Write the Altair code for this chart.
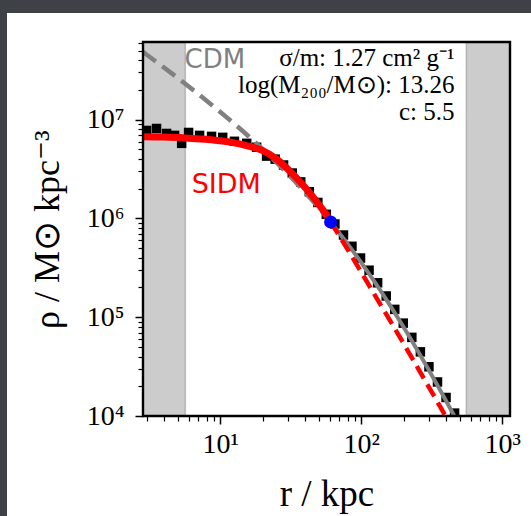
import altair as alt
import pandas as pd

# ---------------- data ----------------
R_DOMAIN = [2.83, 1135.0]
RHO_DOMAIN = [1.0e4, 6.1e7]

# simulated density profile (black squares)
data_r = [3.00, 3.53, 4.16, 4.74, 5.32, 5.96, 7.13, 8.67, 10.4, 12.6, 15.4, 18.1,
          21.3, 24.5, 28.1, 32.4, 37.2, 42.8, 49.2, 56.5, 65.0, 74.8, 85.9, 98.8,
          113.6, 130.6, 150.3, 172.8, 198.6, 228.4, 262.6, 302.0, 347.3, 399.4, 459.2]
data_rho = [7.76e6, 8.13e6, 7.24e6, 6.92e6, 5.75e6, 7.41e6, 6.92e6, 6.76e6, 6.61e6,
            6.03e6, 5.75e6, 5.25e6,
            4.27e6, 3.98e6, 3.47e6, 2.88e6, 2.34e6, 1.86e6, 1.45e6, 1.10e6,
            8.77e5, 6.79e5, 5.22e5, 3.97e5, 2.99e5, 2.23e5, 1.64e5, 1.20e5,
            8.71e4, 6.25e4, 4.46e4, 3.15e4, 2.21e4, 1.54e4, 1.07e4]

# CDM (NFW) fit: dashed inside r1, solid outside
cdm_in_r = [2.83, 3.5, 4.5, 6.0, 8.0, 10.0, 13.0, 16.0, 20.0, 25.0, 30.0, 36.0, 43.0, 50.0, 55.0, 60.6]
cdm_in_rho = [4.84e7, 3.86e7, 2.95e7, 2.15e7, 1.55e7, 1.195e7, 8.70e6, 6.71e6, 5.01e6,
              3.69e6, 2.84e6, 2.16e6, 1.63e6, 1.276e6, 1.086e6, 9.2e5]
cdm_out_r = [60.6, 70.0, 80.0, 100.0, 130.0, 160.0, 200.0, 250.0, 300.0, 350.0, 400.0, 460.0, 500.0]
cdm_out_rho = [9.2e5, 7.08e5, 5.52e5, 3.57e5, 2.07e5, 1.317e5, 7.90e4, 4.64e4, 2.96e4,
               2.00e4, 1.417e4, 9.82e3, 7.87e3]

# SIDM fit: solid inside r1, dashed outside
sidm_in_r = [2.83, 3.98, 5.62, 7.94, 10.0, 12.6, 15.8, 20.0, 25.1, 31.6, 39.8, 44.7, 50.1, 56.2, 60.6]
sidm_in_rho = [6.70e6, 6.65e6, 6.53e6, 6.31e6, 6.11e6, 5.81e6, 5.40e6, 4.85e6, 3.98e6,
               2.95e6, 2.07e6, 1.70e6, 1.38e6, 1.10e6, 9.2e5]
sidm_out_r = [60.6, 70.8, 89.1, 112.0, 141.0, 178.0, 224.0, 282.0, 355.0, 417.0]
sidm_out_rho = [9.2e5, 6.46e5, 3.76e5, 2.17e5, 1.25e5, 7.16e4, 4.08e4, 2.32e4, 1.31e4, 8.77e3]

# matching radius r1
r1_r = [60.6]
r1_rho = [9.2e5]

# excluded (shaded) radial ranges
band_r0 = [2.83, 556.0]
band_r1 = [5.65, 1135.0]

# axis ticks
x_major = [10, 100, 1000]
x_minor = [3, 4, 5, 6, 7, 8, 9, 20, 30, 40, 50, 60, 70, 80, 90, 200, 300, 400, 500, 600, 700, 800, 900]
y_major = [1e4, 1e5, 1e6, 1e7]
y_minor = [2e4, 3e4, 4e4, 5e4, 6e4, 7e4, 8e4, 9e4,
           2e5, 3e5, 4e5, 5e5, 6e5, 7e5, 8e5, 9e5,
           2e6, 3e6, 4e6, 5e6, 6e6, 7e6, 8e6, 9e6,
           2e7, 3e7, 4e7, 5e7, 6e7]

# annotation text
info_lines = ["σ/m: 1.27 cm² g⁻¹", "log(M₂₀₀/M⊙): 13.26", "c: 5.5"]
info_r = [459.0, 459.0, 459.0]
info_rho = [3.45e7, 1.85e7, 1.0e7]
cdm_label = ["CDM"]; cdm_label_r = [5.58]; cdm_label_rho = [3.3e7]
sidm_label = ["SIDM"]; sidm_label_r = [6.27]; sidm_label_rho = [1.8e6]

# ---------------- chart ----------------
W, H = 367, 374
SERIF = "Liberation Serif"
xs = alt.Scale(type="log", domain=R_DOMAIN, nice=False)
ys = alt.Scale(type="log", domain=RHO_DOMAIN, nice=False)


def X(field, axis=None):
    return alt.X(field, type="quantitative", scale=xs, axis=axis)


def Y(field, axis=None):
    return alt.Y(field, type="quantitative", scale=ys, axis=axis)


x_axis_major = alt.Axis(
    values=x_major, orient="bottom", domain=False, grid=False, tickSize=8, tickWidth=1.5,
    tickColor="black", labelFont=SERIF, labelFontSize=28, labelColor="black", labelPadding=6,
    labelExpr="'10' + (datum.value >= 1000 ? '³' : (datum.value >= 100 ? '²' : '¹'))",
    title="r / kpc", titleFont=SERIF, titleFontSize=37, titleFontWeight="normal",
    titleColor="black", titlePadding=18, zindex=1, labelFlush=False)
x_axis_minor = alt.Axis(
    values=x_minor, orient="bottom", domain=False, grid=False, tickSize=5, tickWidth=1.2,
    tickColor="black", labels=False, title=None, zindex=1)
y_axis_major = alt.Axis(
    values=y_major, orient="left", domain=False, grid=False, tickSize=8, tickWidth=1.5,
    tickColor="black", labelFont=SERIF, labelFontSize=28, labelColor="black", labelPadding=11,
    labelExpr="'10' + (datum.value >= 1e7 ? '⁷' : (datum.value >= 1e6 ? '⁶' : (datum.value >= 1e5 ? '⁵' : '⁴')))",
    title="ρ / M⊙ kpc⁻³", titleFont=SERIF, titleFontSize=36, titleFontWeight="normal",
    titleColor="black", titlePadding=20, zindex=1, labelFlush=False)
y_axis_minor = alt.Axis(
    values=y_minor, orient="left", domain=False, grid=False, tickSize=5, tickWidth=1.2,
    tickColor="black", labels=False, title=None, zindex=1)

# white page behind the figure (screenshot border is dark)
page = alt.Chart(pd.DataFrame({"k": [0]})).mark_rect(color="white", clip=False).encode(
    x=alt.value(-136), x2=alt.value(W + 30), y=alt.value(-29), y2=alt.value(H + 110))

bands_df = pd.DataFrame({"r0": band_r0, "r1": band_r1,
                         "y0": [RHO_DOMAIN[0]] * 2, "y1": [RHO_DOMAIN[1]] * 2})
bands = alt.Chart(bands_df).mark_rect(
    fill="#808080", fillOpacity=0.4, stroke="#808080", strokeOpacity=0.45, strokeWidth=1.5
).encode(x=X("r0", x_axis_major), x2="r1", y=Y("y0", y_axis_major), y2="y1")

pts = alt.Chart(pd.DataFrame({"r": data_r, "rho": data_rho})).mark_point(
    shape="square", filled=True, size=90, color="black", opacity=1, clip=True
).encode(x=X("r"), y=Y("rho"))

cdm_in = alt.Chart(pd.DataFrame({"r": cdm_in_r, "rho": cdm_in_rho})).mark_line(
    color="#808080", strokeWidth=4.5, strokeDash=[16, 8], clip=True, interpolate="monotone"
).encode(x=X("r"), y=Y("rho"))
cdm_out = alt.Chart(pd.DataFrame({"r": cdm_out_r, "rho": cdm_out_rho})).mark_line(
    color="#808080", strokeWidth=4, clip=True, interpolate="monotone"
).encode(x=X("r"), y=Y("rho"))

sidm_in = alt.Chart(pd.DataFrame({"r": sidm_in_r, "rho": sidm_in_rho})).mark_line(
    color="#ff0000", strokeWidth=7, clip=True, interpolate="monotone"
).encode(x=X("r"), y=Y("rho"))
sidm_out = alt.Chart(pd.DataFrame({"r": sidm_out_r, "rho": sidm_out_rho})).mark_line(
    color="#ff0000", strokeWidth=4.5, strokeDash=[14, 7], clip=True, interpolate="monotone"
).encode(x=X("r"), y=Y("rho"))

r1 = alt.Chart(pd.DataFrame({"r": r1_r, "rho": r1_rho})).mark_circle(
    size=170, color="#0000ff", opacity=1).encode(x=X("r"), y=Y("rho"))

info = alt.Chart(pd.DataFrame({"r": info_r, "rho": info_rho, "t": info_lines})).mark_text(
    align="right", baseline="alphabetic", font=SERIF, fontSize=25, color="black"
).encode(x=X("r"), y=Y("rho"), text="t:N")

cdm_txt = alt.Chart(pd.DataFrame({"r": cdm_label_r, "rho": cdm_label_rho, "t": cdm_label})).mark_text(
    align="left", baseline="alphabetic", font="DejaVu Sans", fontSize=26, color="#808080"
).encode(x=X("r"), y=Y("rho"), text="t:N")

sidm_txt = alt.Chart(pd.DataFrame({"r": sidm_label_r, "rho": sidm_label_rho, "t": sidm_label})).mark_text(
    align="left", baseline="alphabetic", font="DejaVu Sans", fontSize=27, color="#ff0000"
).encode(x=X("r"), y=Y("rho"), text="t:N")

frame_df = pd.DataFrame({"r0": [R_DOMAIN[0]], "r1": [R_DOMAIN[1]],
                         "y0": [RHO_DOMAIN[0]], "y1": [RHO_DOMAIN[1]]})
frame = alt.Chart(frame_df).mark_rect(
    fillOpacity=0, stroke="black", strokeWidth=2.4, clip=False
).encode(x=X("r0", x_axis_minor), x2="r1", y=Y("y0", y_axis_minor), y2="y1")

chart = alt.layer(
    page, bands, pts, cdm_in, cdm_out, sidm_in, sidm_out, r1, info, cdm_txt, sidm_txt, frame
).resolve_axis(x="independent", y="independent").properties(
    width=W, height=H,
    autosize=alt.AutoSizeParams(type="none"),
    padding={"left": 143, "top": 42, "right": 21, "bottom": 100},
    background="#3e4146",
).configure_view(stroke=None)

chart.save("out.html", embed_options={"renderer": "svg", "actions": False})
